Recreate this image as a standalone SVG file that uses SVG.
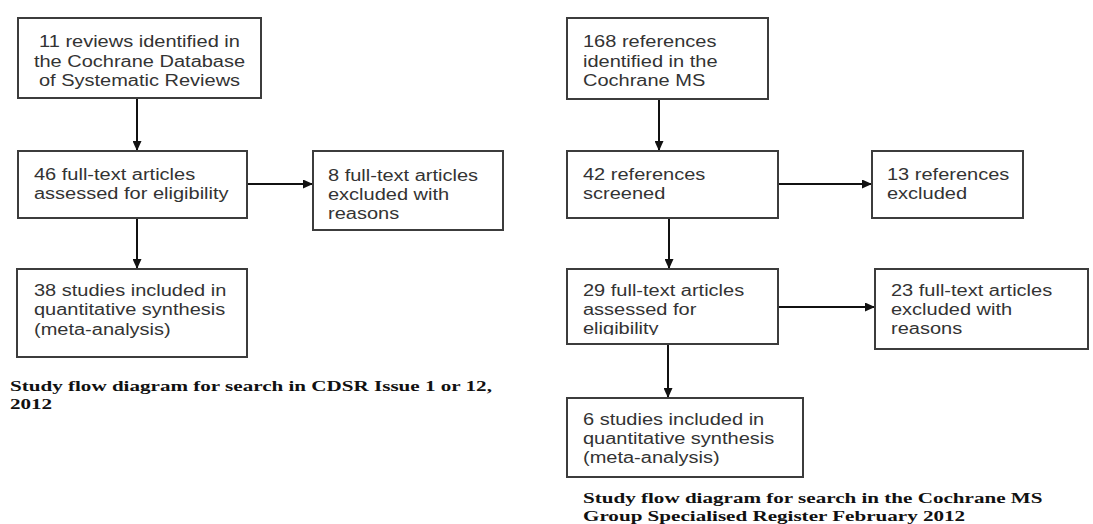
<svg xmlns="http://www.w3.org/2000/svg" width="1093" height="524" viewBox="0 0 1093 524">
<style>
.box{fill:#fff;stroke:#3c3c3c;stroke-width:2}
.t{font-family:"Liberation Sans",Arial,sans-serif;font-size:16px;fill:#333}
.cap{font-family:"Liberation Serif","Times New Roman",serif;font-size:15.5px;font-weight:bold;fill:#111}
.conn line{stroke:#111;stroke-width:2}
</style>
<defs>
<marker id="ah" markerUnits="userSpaceOnUse" markerWidth="10" markerHeight="9" refX="10" refY="4.5" orient="auto">
<path d="M0,0 L10,4.5 L0,9 z" fill="#111"/>
</marker>
<clipPath id="clipD"><rect x="567" y="269" width="211" height="66"/></clipPath>
</defs>
<rect width="1093" height="524" fill="#fff"/>

<g id="connectors" class="conn">
<line x1="137" y1="98" x2="137" y2="151" marker-end="url(#ah)"/>
<line x1="247" y1="184" x2="313" y2="184" marker-end="url(#ah)"/>
<line x1="137" y1="218" x2="137" y2="269" marker-end="url(#ah)"/>
<line x1="659" y1="99" x2="659" y2="151" marker-end="url(#ah)"/>
<line x1="778" y1="184" x2="872" y2="184" marker-end="url(#ah)"/>
<line x1="669" y1="218" x2="669" y2="269" marker-end="url(#ah)"/>
<line x1="778" y1="307" x2="875" y2="307" marker-end="url(#ah)"/>
<line x1="668" y1="344" x2="668" y2="398" marker-end="url(#ah)"/>
</g>

<g id="n1">
<rect class="box" x="18" y="18" width="243" height="80"/>
<text class="t" text-anchor="middle" transform="translate(139.5,0) scale(1.25,1)"><tspan x="0" y="47">11 reviews identified in</tspan><tspan x="0" y="67">the Cochrane Database</tspan><tspan x="0" y="86">of Systematic Reviews</tspan></text>
</g>
<g id="n2">
<rect class="box" x="18" y="151" width="229" height="67"/>
<text class="t" transform="translate(34,0) scale(1.25,1)"><tspan x="0" y="180">46 full-text articles</tspan><tspan x="0" y="199">assessed for eligibility</tspan></text>
</g>
<g id="n3">
<rect class="box" x="313" y="151" width="190" height="79"/>
<text class="t" transform="translate(328,0) scale(1.25,1)"><tspan x="0" y="181">8 full-text articles</tspan><tspan x="0" y="200">excluded with</tspan><tspan x="0" y="219">reasons</tspan></text>
</g>
<g id="n4">
<rect class="box" x="17" y="269" width="230" height="88"/>
<text class="t" transform="translate(34,0) scale(1.25,1)"><tspan x="0" y="296">38 studies included in</tspan><tspan x="0" y="315">quantitative synthesis</tspan><tspan x="0" y="335">(meta-analysis)</tspan></text>
</g>
<g id="caption1">
<text class="cap" transform="translate(10,0) scale(1.36,1)"><tspan x="0" y="391">Study flow diagram for search in CDSR Issue 1 or 12,</tspan><tspan x="0" y="409">2012</tspan></text>
</g>

<g id="nA">
<rect class="box" x="567" y="18" width="201" height="81"/>
<text class="t" transform="translate(583,0) scale(1.25,1)"><tspan x="0" y="47">168 references</tspan><tspan x="0" y="67">identified in the</tspan><tspan x="0" y="86">Cochrane MS</tspan></text>
</g>
<g id="nB">
<rect class="box" x="567" y="151" width="211" height="67"/>
<text class="t" transform="translate(583,0) scale(1.25,1)"><tspan x="0" y="180">42 references</tspan><tspan x="0" y="199">screened</tspan></text>
</g>
<g id="nC">
<rect class="box" x="872" y="151" width="151" height="67"/>
<text class="t" transform="translate(887,0) scale(1.25,1)"><tspan x="0" y="180">13 references</tspan><tspan x="0" y="199">excluded</tspan></text>
</g>
<g id="nD">
<rect class="box" x="567" y="269" width="211" height="75"/>
<g clip-path="url(#clipD)">
<text class="t" transform="translate(583,0) scale(1.25,1)"><tspan x="0" y="296">29 full-text articles</tspan><tspan x="0" y="315">assessed for</tspan><tspan x="0" y="334">eligibility</tspan></text>
</g>
</g>
<g id="nE">
<rect class="box" x="875" y="269" width="213" height="80"/>
<text class="t" transform="translate(891,0) scale(1.25,1)"><tspan x="0" y="296">23 full-text articles</tspan><tspan x="0" y="315">excluded with</tspan><tspan x="0" y="334">reasons</tspan></text>
</g>
<g id="nF">
<rect class="box" x="567" y="398" width="236" height="79"/>
<text class="t" transform="translate(583,0) scale(1.25,1)"><tspan x="0" y="425">6 studies included in</tspan><tspan x="0" y="444">quantitative synthesis</tspan><tspan x="0" y="463">(meta-analysis)</tspan></text>
</g>
<g id="caption2">
<text class="cap" transform="translate(583,0) scale(1.36,1)"><tspan x="0" y="503">Study flow diagram for search in the Cochrane MS</tspan><tspan x="0" y="521">Group Specialised Register February 2012</tspan></text>
</g>
</svg>
